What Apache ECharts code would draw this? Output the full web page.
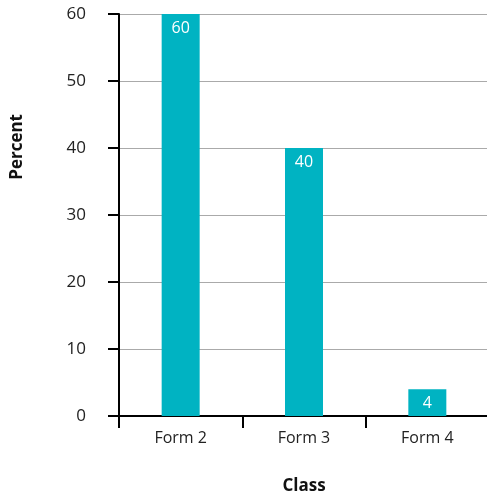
<!DOCTYPE html>
<html>
<head>
<meta charset="utf-8">
<script src="https://cdn.jsdelivr.net/npm/echarts@6/dist/echarts.min.js"></script>
<style>
  html, body { margin: 0; padding: 0; background: #fff; }
  #chart { width: 487px; height: 495px; }
</style>
</head>
<body>
<div id="chart"></div>
<script>
// Share of pupils by class
const categories = ['Form 2', 'Form 3', 'Form 4'];
const percentValues = [60, 40, 4];
const yTicks = { min: 0, max: 60, interval: 10 };

const FONT = '"Open Sans", Lato, sans-serif';
const chart = echarts.init(document.getElementById('chart'));

chart.setOption({
  animation: false,
  grid: { left: 119, right: -2, top: 14, bottom: 79, containLabel: false, outerBoundsMode: 'none' },
  xAxis: {
    type: 'category',
    data: categories,
    name: 'Class',
    nameLocation: 'middle',
    nameGap: 62,
    nameTextStyle: { fontFamily: FONT, fontSize: 17, fontWeight: 'bold', color: '#111' },
    axisLine: { lineStyle: { color: '#000', width: 2 } },
    axisTick: { show: true, length: 12, lineStyle: { color: '#000', width: 2 } },
    axisLabel: { fontFamily: FONT, fontSize: 16, color: '#222', margin: 14 }
  },
  yAxis: {
    type: 'value',
    min: yTicks.min,
    max: yTicks.max,
    interval: yTicks.interval,
    axisLine: { show: true, lineStyle: { color: '#000', width: 2 } },
    axisTick: { show: true, length: 11, lineStyle: { color: '#000', width: 2 } },
    axisLabel: { fontFamily: FONT, fontSize: 17, color: '#222', margin: 33 },
    splitLine: { show: true, lineStyle: { color: '#aaaaaa', width: 1 } }
  },
  graphic: [{
    type: 'text',
    left: 9,
    top: 114,
    rotation: Math.PI / 2,
    style: {
      text: 'Percent',
      font: 'bold 17px ' + FONT,
      fill: '#111'
    }
  }],
  series: [{
    type: 'bar',
    data: percentValues,
    barWidth: 38,
    itemStyle: { color: '#00b3c2' },
    label: {
      show: true,
      position: 'insideTop',
      distance: 6,
      color: '#fff',
      fontFamily: FONT,
      fontSize: 16
    }
  }]
});
</script>
</body>
</html>
